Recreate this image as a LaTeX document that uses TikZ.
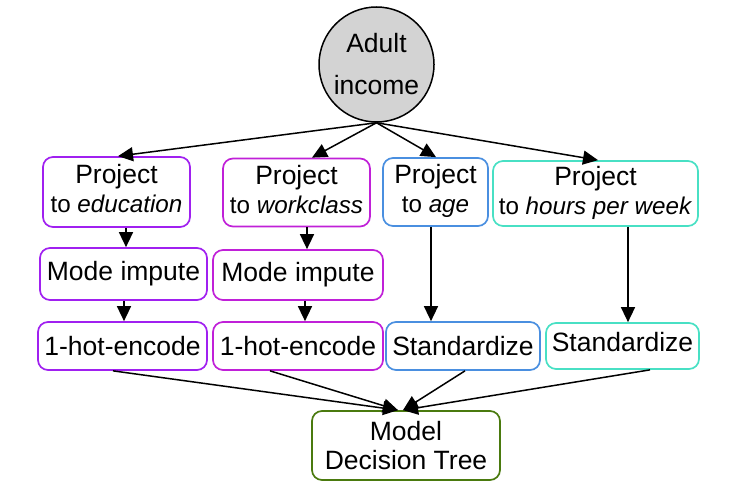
\documentclass[tikz,border=0pt]{standalone}
\usepackage{fontspec}
\setmainfont{Liberation Sans}
\usetikzlibrary{arrows.meta}
\definecolor{cedu}{HTML}{A020F0}
\definecolor{cwork}{HTML}{C020D8}
\definecolor{cage}{HTML}{4A8FE0}
\definecolor{chrs}{HTML}{48E0C4}
\definecolor{cmodel}{HTML}{4A7A0E}
\definecolor{cgray}{HTML}{D3D3D3}
\newcommand\sublab[1]{{\fontsize{24.2}{29}\selectfont #1\rule[-7pt]{0pt}{7pt}}}
\begin{document}
\begin{tikzpicture}[x=1pt,y=-1pt,
  box/.style={draw, rounded corners=10pt, line width=1.7pt, align=center, inner sep=0pt,
    font=\fontsize{26.5}{29}\selectfont},
  arr/.style={-{Triangle[length=15pt,width=14pt]}, line width=1.5pt}]
\useasboundingbox (0,0) rectangle (754,502);
% root
\node[circle, draw, line width=1.5pt, fill=cgray, minimum size=115pt, inner sep=0pt,
  align=center, font=\fontsize{26.5}{42}\selectfont] (root) at (376.5,64.5) {Adult\\income};
% row 1
\node[box, draw=cedu,  minimum width=147pt, minimum height=70pt] (pe) at (116.5,192) {Project\\\sublab{to \textit{education}}};
\node[box, draw=cwork, minimum width=147pt, minimum height=68pt] (pw) at (296.5,192.5) {Project\\\sublab{to \textit{workclass}}};
\node[box, draw=cage,  minimum width=105pt, minimum height=68pt] (pa) at (435.5,192) {Project\\\sublab{to \textit{age}}};
\node[box, draw=chrs,  minimum width=205pt, minimum height=65pt] (ph) at (595.5,193.5) {Project\\\sublab{to \textit{hours per week}}};
% row 2
\node[box, draw=cedu,  minimum width=167pt, minimum height=52pt] (me) at (123.5,274) {Mode impute};
\node[box, draw=cwork, minimum width=170pt, minimum height=50pt] (mw) at (298,275) {Mode impute};
% row 3
\node[box, draw=cedu,  minimum width=169pt, minimum height=48pt] (he) at (122.5,346) {1-hot-encode};
\node[box, draw=cwork, minimum width=170pt, minimum height=48pt] (hw) at (298,346) {1-hot-encode};
\node[box, draw=cage,  minimum width=154pt, minimum height=48pt] (sa) at (463,346) {Standardize};
\node[box, draw=chrs,  minimum width=153pt, minimum height=46pt, text depth=8pt] (sh) at (622.5,346) {Standardize};
% model
\node[box, draw=cmodel, minimum width=188pt, minimum height=69pt] (md) at (406,445.5) {Model\\Decision Tree};
% edges from root
\draw[arr] (root.south) -- ([xshift=1.5pt]pe.north);
\draw[arr] (root.south) -- ([xshift=15.5pt]pw.north);
\draw[arr] (root.south) -- ([xshift=0.5pt]pa.north);
\draw[arr] (root.south) -- ([xshift=2.5pt]ph.north);
% columns
\draw[arr] ([xshift=9.5pt]pe.south) -- ([xshift=2.5pt]me.north);
\draw[arr] ([xshift=0.5pt]me.south) -- ([xshift=1.5pt]he.north);
\draw[arr] ([xshift=10.5pt]pw.south) -- ([xshift=9pt]mw.north);
\draw[arr] ([xshift=7pt]mw.south) -- ([xshift=7pt]hw.north);
\draw[arr] ([xshift=-4.5pt]pa.south) -- ([xshift=-32pt]sa.north);
\draw[arr] ([xshift=32.5pt]ph.south) -- ([xshift=5.5pt]sh.north);
% to model
\draw[arr] ([xshift=-9.5pt]he.south) -- ([xshift=-8pt]md.north);
\draw[arr] ([xshift=-28pt]hw.south) -- ([xshift=-8pt]md.north);
\draw[arr] ([xshift=2pt]sa.south) -- ([xshift=-3pt]md.north);
\draw[arr] ([xshift=27.5pt]sh.south) -- ([xshift=-3pt]md.north);
\end{tikzpicture}
\end{document}
